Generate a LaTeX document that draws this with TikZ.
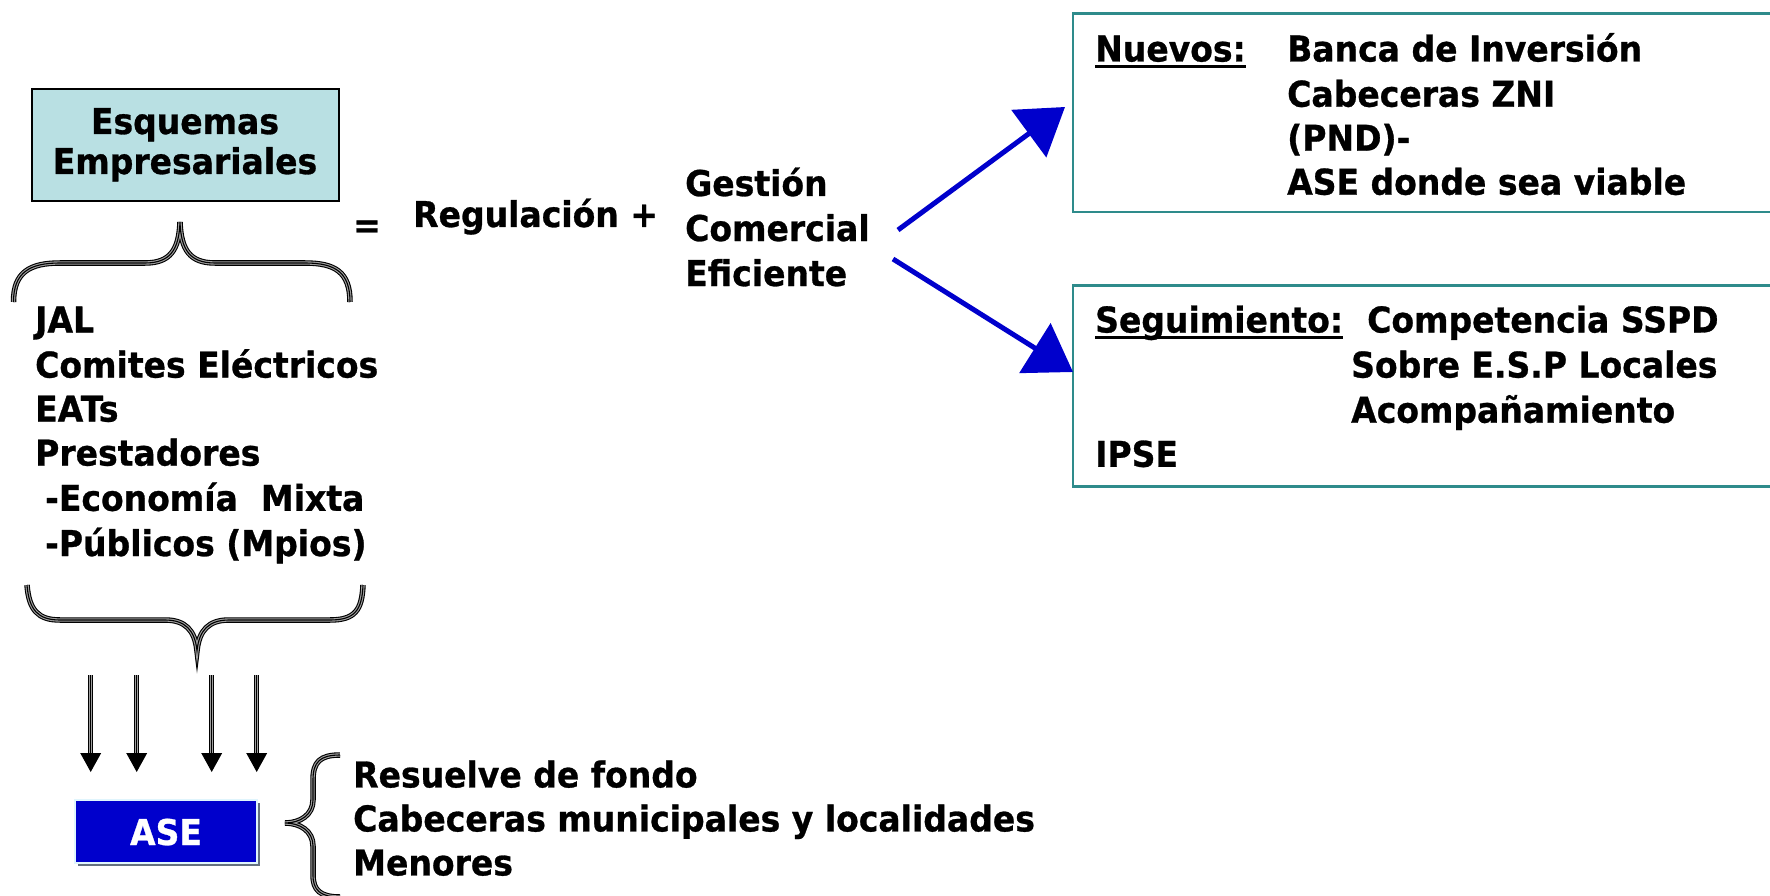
\documentclass[tikz,border=0pt]{standalone}
\usepackage{fontspec}
\setmainfont{DejaVu Sans}[FakeStretch=0.93, BoldFeatures={FakeBold=0.8}]
\usetikzlibrary{arrows.meta}
\definecolor{boxcyan}{RGB}{185,224,227}
\definecolor{tealb}{RGB}{46,139,139}
\definecolor{aseblue}{RGB}{0,0,204}
\definecolor{shadowg}{RGB}{100,112,128}
\tikzset{
  bigfont/.style={font=\fontsize{35.5}{44.8}\selectfont\bfseries},
  txt/.style={bigfont, inner sep=0pt, anchor=base west},
  txtc/.style={bigfont, inner sep=0pt, anchor=base},
  brace/.style={line width=5.5pt, draw=black, line cap=butt,
    postaction={draw=gray!75, line width=3.3pt},
    postaction={draw=black, line width=1.1pt}},
  shaft/.style={line width=5pt, draw=black,
    postaction={draw=gray!75, line width=3pt},
    postaction={draw=black, line width=1pt}},
  tealbox/.style={draw=tealb, line width=2.5pt},
  bluearrow/.style={draw=aseblue, line width=5pt, -{Triangle[length=45pt,width=58pt]}},
}
\begin{document}
\begin{tikzpicture}[x=1pt,y=-1pt]
\useasboundingbox (0,0) rectangle (1770,896);
\clip (0,0) rectangle (1770,896);
\fill[white] (0,0) rectangle (1770,896);

% Esquemas box
\node[draw=black, line width=2pt, fill=boxcyan, minimum width=307pt, minimum height=112pt,
      inner sep=0pt] (esq) at (185,145) {};
\node[txtc] (esq1) at (185,134) {Esquemas};
\node[txtc] (esq2) at (185,174) {Empresariales};

% top brace
\draw[brace] (13.5,302) .. controls (13.5,272) and (30,263) .. (60,263) -- (145,263)
  .. controls (170,263) and (179,250) .. (180,222)
  .. controls (181,250) and (190,263) .. (215,263) -- (305,263)
  .. controls (335,263) and (350,272) .. (350,302);

\node[bigfont, inner sep=0pt] (eq) at (367,229) {=};
\node[txt] (reg) at (413,227) {Regulación +};
\node[txt] (g1) at (685,196) {Gestión};
\node[txt] (g2) at (685,241) {Comercial};
\node[txt] (g3) at (685,286) {Eficiente};

% left list
\node[txt] (l1) at (35,332.5) {JAL};
\node[txt] (l2) at (35,377.6) {Comites Eléctricos};
\node[txt] (l3) at (35,421.6) {EATs};
\node[txt] (l4) at (35,465.6) {Prestadores};
\node[txt] (l5) at (45,510.8) {-Economía\ \ Mixta};
\node[txt] (l6) at (45,556) {-Públicos (Mpios)};

% bottom brace
\draw[brace] (27,585) .. controls (29,610) and (38,620) .. (60,620) -- (165,620)
  .. controls (185,620) and (195,630) .. (197,651)
  .. controls (199,630) and (209,620) .. (229,620) -- (330,620)
  .. controls (355,620) and (362,610) .. (363,585);

% down arrows
\foreach \xx/\nm in {90.7/d1,136.7/d2,211.7/d3,256.7/d4}{
  \coordinate (\nm s) at (\xx,675);
  \coordinate (\nm b) at (\xx,754);
  \draw[shaft] (\nm s) -- (\nm b);
  \fill[black] (\xx-10.5,753) -- (\xx+10.5,753) -- (\xx,772) -- cycle;
}

% ASE box
\fill[shadowg] (78,803) rectangle (260,866);
\node[draw=cyan!12, line width=2pt, fill=aseblue, minimum width=182pt, minimum height=63pt,
      inner sep=0pt] (ase) at (166,831.5) {};
\node[txtc, text=white] (asetxt) at (166,845) {ASE};

% right brace
\draw[brace] (340,755) .. controls (320,755) and (313,762) .. (313,780) -- (313,800)
  .. controls (313,815) and (300,823) .. (285,823)
  .. controls (300,823) and (313,831) .. (313,846) -- (313,875)
  .. controls (313,890) and (320,897) .. (340,897);

\node[txt] (r1) at (353,787.4) {Resuelve de fondo};
\node[txt] (r2) at (353,831.4) {Cabeceras municipales y localidades};
\node[txt] (r3) at (353,875.4) {Menores};

% Nuevos box
\draw[tealbox] (1073,13.5) rectangle (1795,212);
\node[txt] (nuevos) at (1095,61.5) {Nuevos:};
\draw[line width=2.5pt] ([yshift=-5pt]nuevos.base west) -- ([yshift=-5pt]nuevos.base east);
\node[txt] (n1) at (1287,61.5) {Banca de Inversión};
\node[txt] (n2) at (1287,106.7) {Cabeceras ZNI};
\node[txt] (n3) at (1287,150.7) {(PND)-};
\node[txt] (n4) at (1287,194.7) {ASE donde sea viable};

% Seguimiento box
\draw[tealbox] (1073,285.6) rectangle (1795,486.5);
\node[txt] (seg) at (1095,332.5) {Seguimiento:};
\draw[line width=2.5pt] ([yshift=-5pt]seg.base west) -- ([yshift=-5pt]seg.base east);
\node[txt] (s1) at (1367,332.5) {Competencia SSPD};
\node[txt] (s2) at (1351,377.6) {Sobre E.S.P Locales};
\node[txt] (s3) at (1351,422.7) {Acompañamiento};
\node[txt] (s4) at (1095,466.8) {IPSE};

% blue arrows
\coordinate (a1s) at (898,230);
\coordinate (a1e) at (1065,107);
\coordinate (a2s) at (893,259);
\coordinate (a2e) at (1073,372);
\draw[bluearrow] (a1s) -- (a1e);
\draw[bluearrow] (a2s) -- (a2e);
\end{tikzpicture}
\end{document}
